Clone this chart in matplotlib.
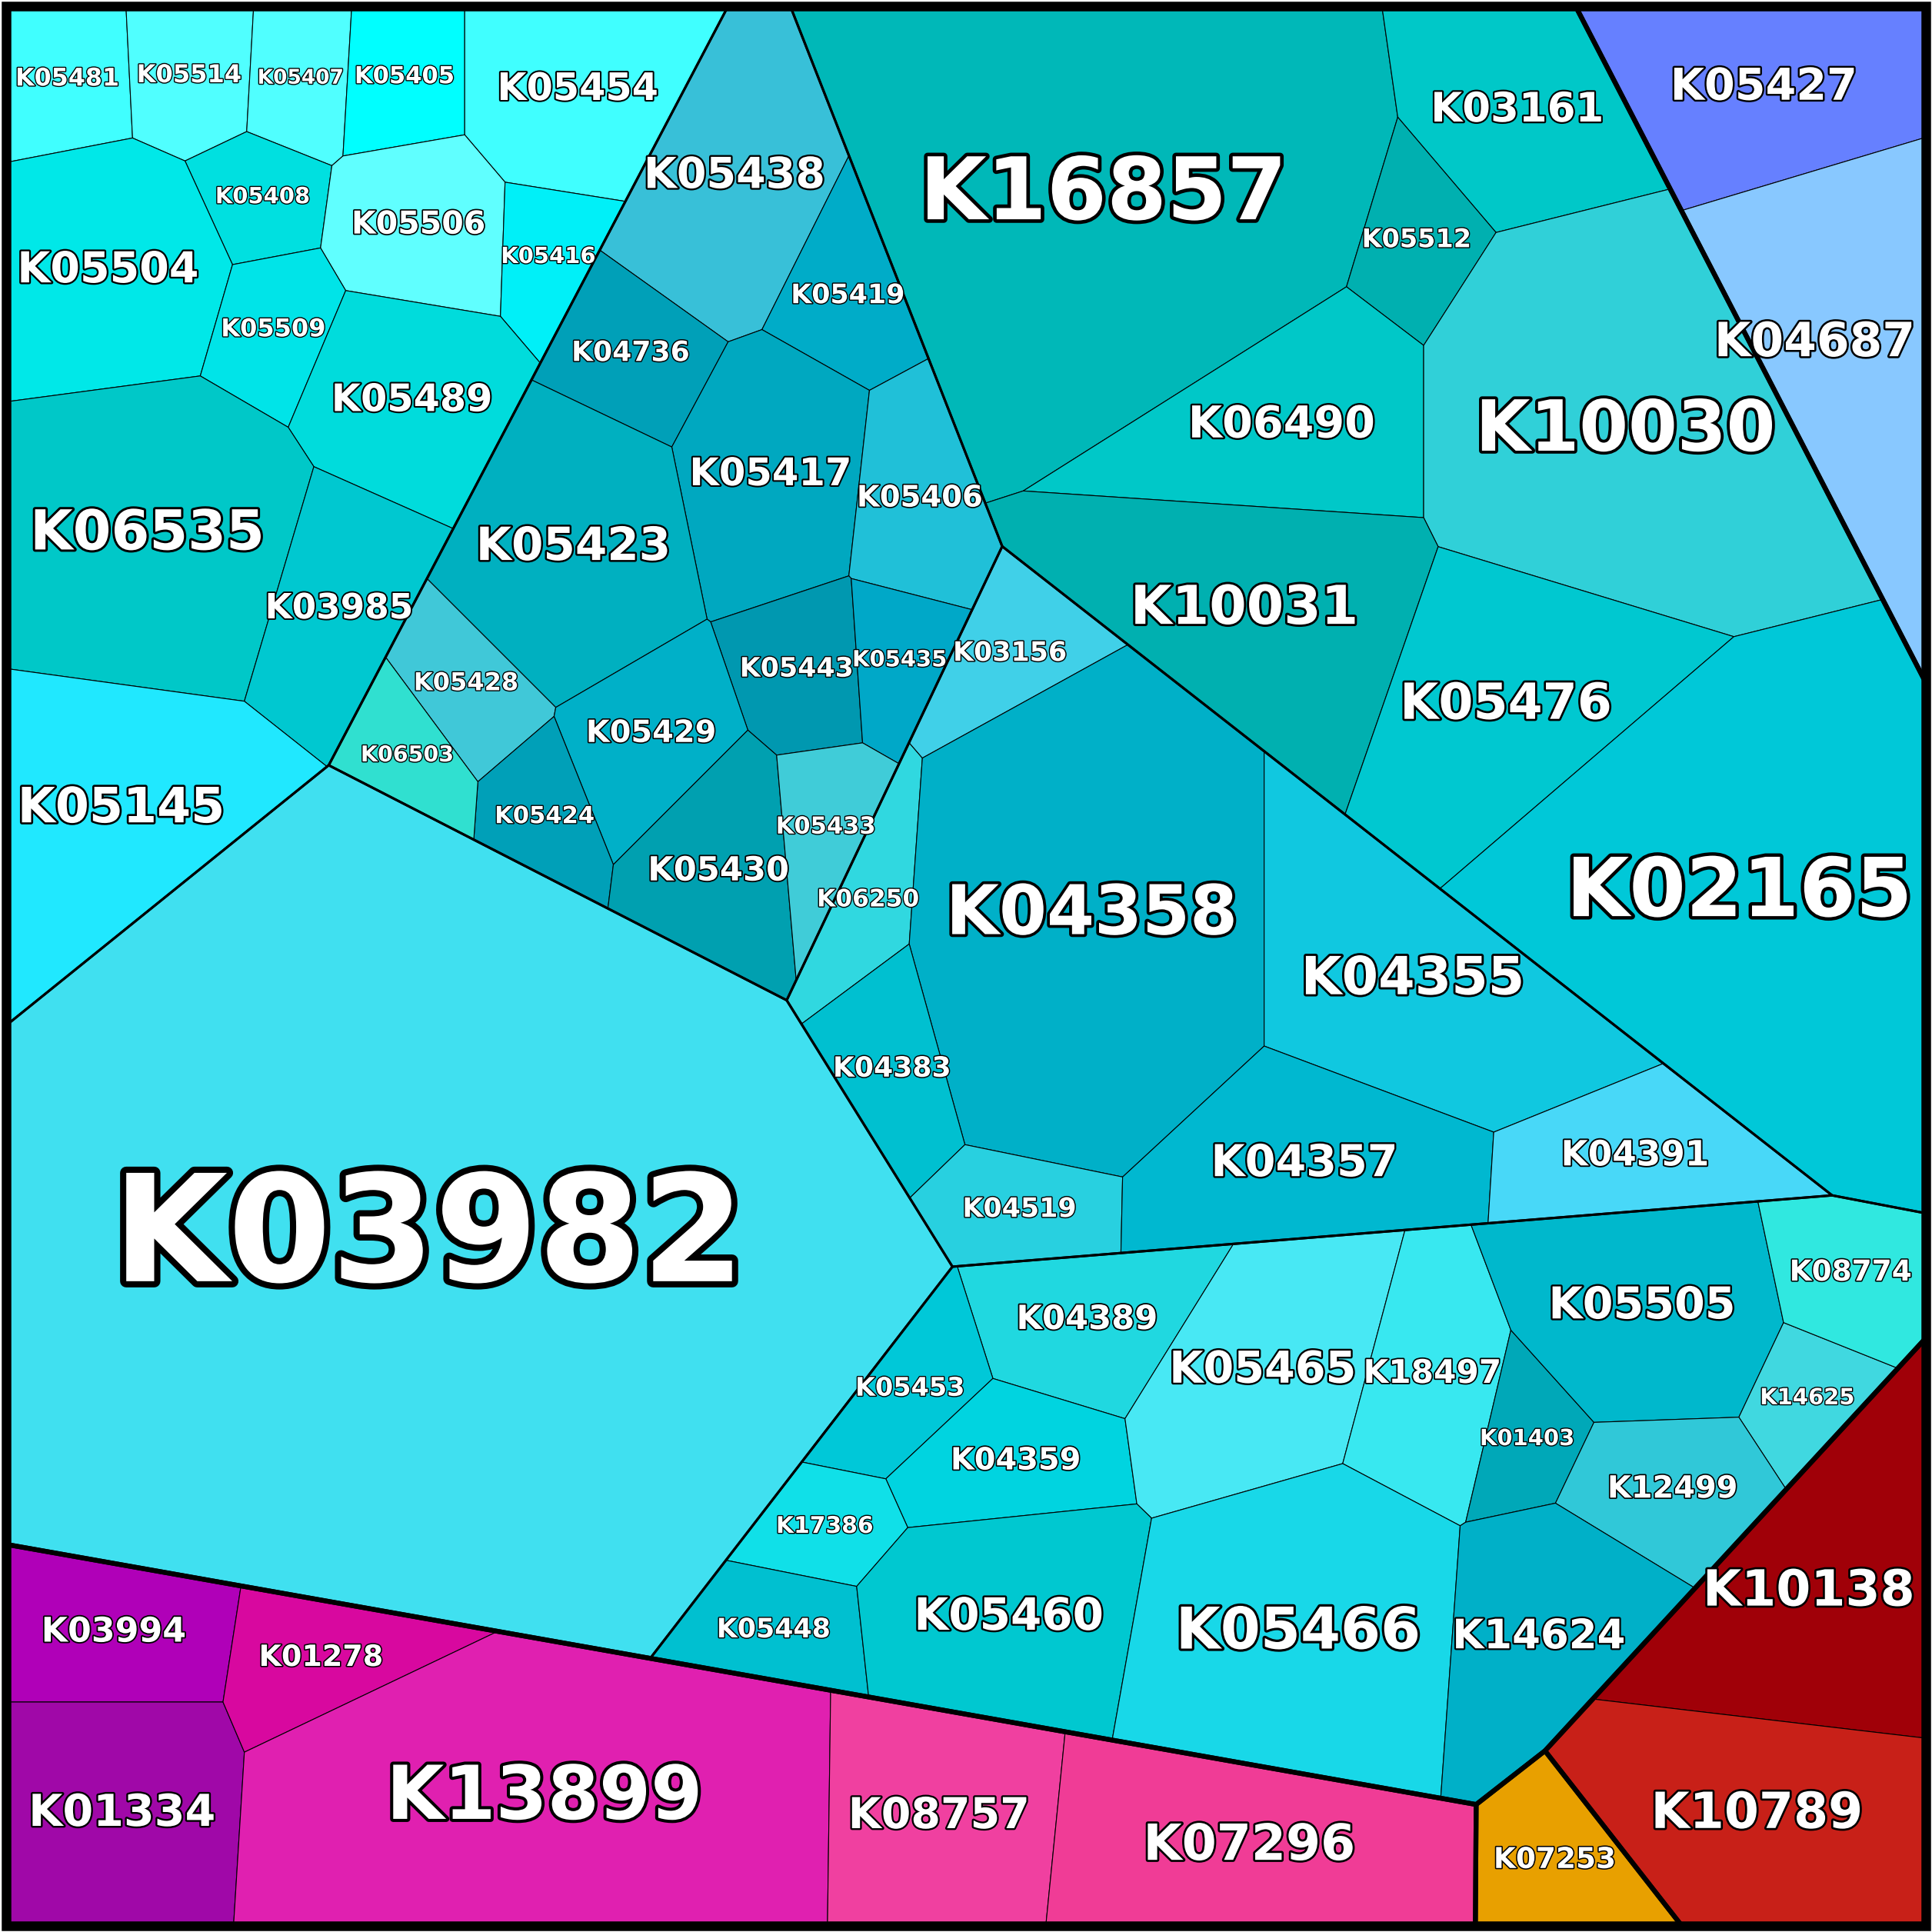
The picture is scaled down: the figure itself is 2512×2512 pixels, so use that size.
import numpy as np
import matplotlib
matplotlib.use("Agg")
import matplotlib.pyplot as plt
from matplotlib.patches import Polygon
import matplotlib.patheffects as pe

# leaves: name, group, subgroup, approximate area (display units^2), seed x, seed y, colour
names = ["K05481", "K05514", "K05407", "K05405", "K05454", "K05408", "K05506", "K05416",
         "K05504", "K05509", "K05489", "K06535", "K03985", "K05145",
         "K05438", "K05419", "K04736", "K05417", "K05406", "K05423", "K05443", "K05435",
         "K05428", "K05429", "K05424", "K05430", "K05433", "K06503",
         "K03982",
         "K16857", "K03161", "K05512", "K06490", "K10030", "K10031", "K05476", "K02165",
         "K06250", "K03156", "K04358", "K04383", "K04519", "K04355", "K04357", "K04391",
         "K04389", "K05453", "K04359", "K05465", "K18497", "K17386", "K05448", "K05460",
         "K05466", "K01403", "K05505", "K14625", "K08774", "K12499", "K14624",
         "K03994", "K01334", "K01278", "K13899", "K08757", "K07296",
         "K10138", "K10789", "K07253", "K05427", "K04687"]
groups = ["cyan"] * 60 + ["magenta"] * 6 + ["red"] * 2 + ["orange"] + ["blue"] * 2
subgroups = (["s1"] * 14 + ["s2"] * 14 + ["s3"] + ["s4"] * 8 + ["s5"] * 8 + ["s6"] * 15
             + ["m"] * 6 + ["r"] * 2 + ["o"] + ["b"] * 2)
values = [12000, 11500, 9500, 11000, 26000, 9000, 18000, 9000,
          33000, 11000, 26000, 55000, 22000, 43000,
          33000, 13000, 14000, 28000, 17000, 38000, 13000, 9000,
          11000, 17000, 10000, 20000, 10000, 8700,
          400000,
          135000, 30000, 12000, 35000, 90000, 52000, 45000, 120000,
          10500, 13000, 100000, 14000, 13000, 50000, 35000, 22000,
          20000, 12000, 17000, 35000, 22000, 9500, 13000, 36000,
          60000, 9000, 35000, 9000, 15000, 17000, 30000,
          21000, 35000, 15500, 100000, 33000, 45000,
          45000, 45000, 15000, 35000, 45000]
seed_x = [60, 160, 250, 335, 490, 210, 355, 471, 90, 228, 335, 120, 255, 85,
          590, 720, 515, 655, 790, 460, 690, 815, 370, 530, 430, 590, 705, 289,
          360,
          900, 1250, 1115, 1020, 1310, 1010, 1240, 1420,
          637, 820, 900, 720, 860, 1160, 1085, 1245,
          855, 745, 820, 1000, 1150, 720, 697, 835, 1060, 1235, 1335, 1462, 1500, 1340, 1270,
          100, 100, 358, 420, 790, 1040,
          1460, 1440, 1265, 1440, 1500]
seed_y = [60, 55, 60, 65, 65, 160, 180, 184, 215, 255, 300, 440, 480, 695,
          230, 295, 335, 410, 425, 450, 515, 525, 540, 570, 610, 630, 620, 600,
          1010,
          150, 100, 215, 340, 340, 490, 570, 780,
          737, 615, 760, 810, 955, 760, 960, 970,
          1030, 1065, 1145, 1120, 1160, 1190, 1305, 1290, 1330, 1180, 1090, 1150, 1055, 1230, 1345,
          1300, 1450, 1340, 1470, 1475, 1500,
          1300, 1470, 1510, 80, 280]
colors = ["#40ffff", "#50ffff", "#50ffff", "#00ffff", "#40ffff", "#00e0e0", "#60ffff", "#00f0f8",
          "#00e8e8", "#00e4e8", "#00dcdc", "#00c8c8", "#00c8d0", "#20e8ff",
          "#38c0d8", "#00acc8", "#00a0b8", "#00a8c0", "#20c0d8", "#00b0c0", "#0098b0", "#00a8c8",
          "#40c8d8", "#00b0c8", "#00a0b8", "#00a0b0", "#40ccd8", "#30e0d0",
          "#40e0f0",
          "#00b8b8", "#00c8c8", "#00b0b0", "#00c8c8", "#30d0d8", "#00b0b0", "#00c8d0", "#00c8d8",
          "#30d8e0", "#40d0e8", "#00b0c8", "#00c0d0", "#28d0e0", "#10c8e0", "#00b8d0", "#48d8f8",
          "#20d8e0", "#00c8d8", "#00d4e0", "#48e8f4", "#38e8f0", "#10e0e8", "#00c0d0", "#00c8d0",
          "#18d8e8", "#00a8b8", "#00b8cc", "#40d8e0", "#30e8e0", "#30c8d8", "#00b0c8",
          "#b000b8", "#a008a8", "#d8089f", "#e020b0", "#f040a0", "#f03c96",
          "#a00008", "#c82018", "#e8a000", "#6680ff", "#88c8ff"]

S = 1568.0
LO, HI = 5.0, 1563.0
PX = 2512 / S  # output pixels per layout unit


def clip(poly, a, b):
    out = []
    n = len(poly)
    for k in range(n):
        p, q = poly[k], poly[(k + 1) % n]
        fp, fq = a @ p - b, a @ q - b
        if fp <= 0:
            out.append(p)
        if fp * fq < 0:
            t = fp / (fp - fq)
            out.append(p + t * (q - p))
    return out


def area_centroid(poly):
    if len(poly) < 3:
        return 0.0, None
    P = np.array(poly)
    x, y = P[:, 0], P[:, 1]
    x2, y2 = np.roll(x, -1), np.roll(y, -1)
    cr = x * y2 - x2 * y
    A = cr.sum() / 2
    if abs(A) < 1e-9:
        return 0.0, P.mean(axis=0)
    cx = ((x + x2) * cr).sum() / (6 * A)
    cy = ((y + y2) * cr).sum() / (6 * A)
    return abs(A), np.array([cx, cy])


def power_cells(sites, w, domain):
    cells = []
    for i in range(len(sites)):
        poly = [np.array(p, float) for p in domain]
        for j in range(len(sites)):
            if i == j or not poly:
                continue
            a = 2 * (sites[j] - sites[i])
            b = sites[j] @ sites[j] - sites[i] @ sites[i] - w[j] + w[i]
            poly = clip(poly, a, b)
        cells.append(poly)
    return cells


def inside(dom, p):
    P = np.array(dom)
    n = len(P)
    for k in range(n):
        e = P[(k + 1) % n] - P[k]
        d = p - P[k]
        if e[0] * d[1] - e[1] * d[0] < 0:
            return False
    return True


def treemap(domain, vals, targets, move=False, iters=450):
    vals = np.array(vals, float)
    targets = np.array(targets, float)
    sites = targets.copy()
    if len(vals) == 1:
        return [domain]
    dom_area, dom_c = area_centroid(domain)
    P = np.array(domain)
    sgn = np.sum(P[:, 0] * np.roll(P[:, 1], -1) - np.roll(P[:, 0], -1) * P[:, 1])
    dom = list(domain) if sgn > 0 else list(domain)[::-1]

    def pull_in(p):
        while not inside(dom, p):
            p = dom_c + 0.9 * (p - dom_c)
        return p

    for i in range(len(sites)):
        sites[i] = pull_in(sites[i])
    tarea = vals / vals.sum() * dom_area
    w = np.zeros(len(vals))
    for it in range(iters):
        cells = power_cells(sites, w, domain)
        for i, c in enumerate(cells):
            A, C = area_centroid(c)
            w[i] += 0.35 * (tarea[i] - A)
            if move and 100 <= it < iters - 80 and A > 0.5 * tarea[i]:
                sites[i] = pull_in(sites[i] + 0.08 * (targets[i] - C))
        w -= w.mean()
    return power_cells(sites, w, domain)


vals = np.array(values, float)
pts = np.column_stack([seed_x, seed_y]).astype(float)
square = [(LO, LO), (HI, LO), (HI, HI), (LO, HI)]

fig = plt.figure(figsize=(25.12, 25.12), dpi=100)
ax = fig.add_axes([0, 0, 1, 1])
ax.set_xlim(0, S)
ax.set_ylim(S, 0)
ax.axis("off")

gnames = list(dict.fromkeys(groups))
gidx = [[i for i, g in enumerate(groups) if g == k] for k in gnames]
gcells = treemap(square, [vals[ix].sum() for ix in gidx],
                 [np.average(pts[ix], axis=0, weights=vals[ix]) for ix in gidx], move=True)

leaf_cells = {}
sub_cells = []
for gi, ix in enumerate(gidx):
    snames = list(dict.fromkeys(subgroups[i] for i in ix))
    sidx = [[i for i in ix if subgroups[i] == s] for s in snames]
    scells = treemap(gcells[gi], [vals[s].sum() for s in sidx],
                     [np.average(pts[s], axis=0, weights=vals[s]) for s in sidx], move=True)
    for si, s in enumerate(sidx):
        sub_cells.append(scells[si])
        lc = treemap(scells[si], vals[s], pts[s])
        for k, i in enumerate(s):
            leaf_cells[i] = lc[k]

for i, c in leaf_cells.items():
    if len(c) < 3:
        continue
    ax.add_patch(Polygon(np.array(c), closed=True, facecolor=colors[i],
                         edgecolor="black", linewidth=0.8))
for c in sub_cells:
    if len(c) >= 3:
        ax.add_patch(Polygon(np.array(c), closed=True, fill=False,
                             edgecolor="black", linewidth=2.2))
for c in gcells:
    if len(c) >= 3:
        ax.add_patch(Polygon(np.array(c), closed=True, fill=False,
                             edgecolor="black", linewidth=4.5))
ax.add_patch(Polygon(np.array(square), closed=True, fill=False,
                     edgecolor="black", linewidth=9))

for i, c in leaf_cells.items():
    A, C = area_centroid(c)
    if C is None:
        continue
    P = np.array(c)
    width = P[:, 0].max() - P[:, 0].min()
    fs = 0.22 * np.sqrt(vals[i])
    # keep the label inside its cell (6 bold glyphs ~ 4.4 em wide)
    fs = min(fs, 0.85 * width * PX * 0.72 / 4.4)
    fs = max(fs, 12)
    half = fs * 4.4 / 0.72 / PX / 2
    x = min(max(C[0], LO + half + 6), HI - half - 6)
    ax.text(x, C[1], names[i], ha="center", va="center", color="white",
            fontsize=fs, fontweight="bold",
            path_effects=[pe.withStroke(linewidth=max(2, fs / 12), foreground="black")])

fig.savefig("out.png", dpi=100)
